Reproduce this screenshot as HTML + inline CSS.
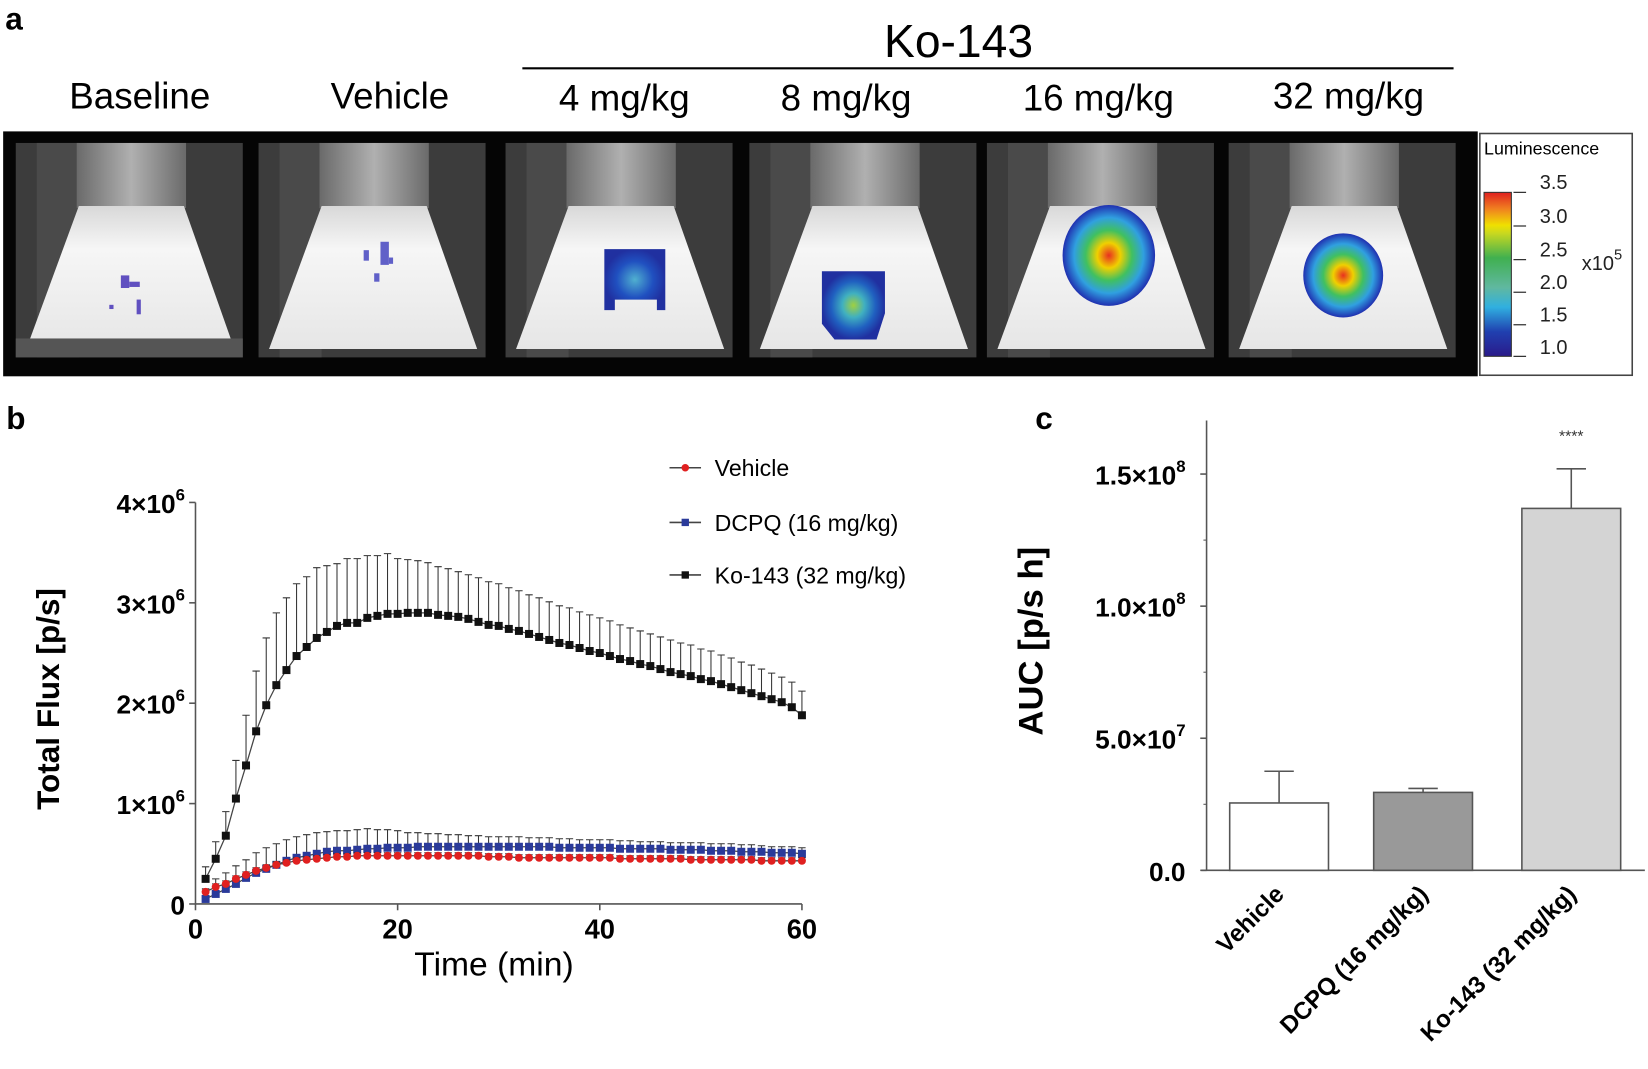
<!DOCTYPE html>
<html><head><meta charset="utf-8"><style>
html,body{margin:0;padding:0;background:#fff;}
svg{display:block;}
text{font-family:"Liberation Sans",Arial,sans-serif;}
</style></head><body>
<svg id="fig" width="1648" height="1069" viewBox="0 0 1568 1017" preserveAspectRatio="none" xmlns="http://www.w3.org/2000/svg">
<defs>
<linearGradient id="neck" x1="0" x2="1" y1="0" y2="0"><stop offset="0" stop-color="#6a6a6a"/><stop offset="0.5" stop-color="#b0b0b0"/><stop offset="1" stop-color="#6a6a6a"/></linearGradient>
<linearGradient id="body" x1="0" x2="0" y1="0" y2="1"><stop offset="0" stop-color="#d8d8d8"/><stop offset="0.3" stop-color="#f6f6f6"/><stop offset="1" stop-color="#e6e6e6"/></linearGradient>
<linearGradient id="cbar" x1="0" x2="0" y1="1" y2="0"><stop offset="0" stop-color="#2a1a8a"/><stop offset="0.15" stop-color="#2040b0"/><stop offset="0.3" stop-color="#30b0e0"/><stop offset="0.42" stop-color="#60b8a0"/><stop offset="0.6" stop-color="#40b050"/><stop offset="0.75" stop-color="#c8d820"/><stop offset="0.8" stop-color="#f0e000"/><stop offset="0.9" stop-color="#f08020"/><stop offset="1" stop-color="#e02020"/></linearGradient>
<radialGradient id="hot" cx="0.5" cy="0.5" r="0.5"><stop offset="0" stop-color="#e83020"/><stop offset="0.25" stop-color="#f0d000"/><stop offset="0.5" stop-color="#40c060"/><stop offset="0.75" stop-color="#30a0e0"/><stop offset="1" stop-color="#2030b0"/></radialGradient>
<radialGradient id="mid" cx="0.5" cy="0.5" r="0.5"><stop offset="0" stop-color="#a0d040"/><stop offset="0.35" stop-color="#40b0c0"/><stop offset="0.7" stop-color="#2060c0"/><stop offset="1" stop-color="#2030a0"/></radialGradient>
<radialGradient id="low" cx="0.5" cy="0.5" r="0.5"><stop offset="0" stop-color="#50b0d0"/><stop offset="0.6" stop-color="#2050c0"/><stop offset="1" stop-color="#2030a0"/></radialGradient>
<g id="mouse">
<rect x="0" y="0" width="216" height="204" fill="#3c3c3c"/>
<rect x="20" y="0" width="40" height="204" fill="#4a4a4a"/>
<rect x="58" y="0" width="104" height="62" fill="url(#neck)"/>
<polygon points="60,60 160,60 208,196 10,196" fill="url(#body)"/>
</g>
</defs>

<text x="5" y="28" font-size="30" font-weight="bold">a</text>
<text x="912" y="54" font-size="44" text-anchor="middle">Ko-143</text>
<line x1="497" y1="65" x2="1383" y2="65" stroke="#000" stroke-width="2"/>
<g font-size="35" text-anchor="middle">
<text x="133" y="103">Baseline</text>
<text x="371" y="103">Vehicle</text>
<text x="594" y="105">4 mg/kg</text>
<text x="805" y="105">8 mg/kg</text>
<text x="1045" y="105">16 mg/kg</text>
<text x="1283" y="103">32 mg/kg</text>
</g>
<rect x="3" y="125" width="1403" height="233" fill="#050505"/>
<g><use href="#mouse" transform="translate(15,136)"/>
<rect x="15" y="322" width="216" height="18" fill="#555"/>
<g fill="#6050c0"><rect x="115" y="262" width="8" height="12"/><rect x="123" y="268" width="10" height="5"/><rect x="130" y="285" width="4" height="14"/><rect x="104" y="290" width="4" height="4"/></g></g>
<g><use href="#mouse" transform="translate(246,136)"/>
<g fill="#6060c8"><rect x="362" y="230" width="8" height="22"/><rect x="346" y="238" width="5" height="10"/><rect x="356" y="260" width="5" height="8"/><rect x="370" y="245" width="4" height="6"/></g></g>
<g><use href="#mouse" transform="translate(481,136)"/>
<path d="M575,237 h58 v58 h-8 v-10 h-40 v10 h-10 z" fill="url(#low)"/></g>
<g><use href="#mouse" transform="translate(713,136)"/>
<path d="M782,258 h60 v40 l-8,25 h-40 l-12,-15 z" fill="url(#mid)"/></g>
<g><use href="#mouse" transform="translate(939,136)"/>
<ellipse cx="1055" cy="243" rx="44" ry="48" fill="url(#hot)"/></g>
<g><use href="#mouse" transform="translate(1169,136)"/>
<ellipse cx="1278" cy="262" rx="38" ry="40" fill="url(#hot)"/></g>
<g>
<rect x="1408" y="127" width="145" height="230" fill="#fff" stroke="#444" stroke-width="1.5"/>
<text x="1412" y="147" font-size="17">Luminescence</text>
<rect x="1412" y="183" width="26" height="156" fill="url(#cbar)" stroke="#333"/>
<g font-family="Liberation Serif" font-size="19" fill="#222">
<text x="1465" y="180">3.5</text><text x="1465" y="212">3.0</text><text x="1465" y="244">2.5</text><text x="1465" y="275">2.0</text><text x="1465" y="306">1.5</text><text x="1465" y="337">1.0</text>
<text x="1505" y="257">x10<tspan font-size="14" dy="-10">5</tspan></text></g>
<path d="M1440,183 h12 M1440,215 h12 M1440,247 h12 M1440,278 h12 M1440,309 h12 M1440,339 h12" stroke="#333" stroke-width="1.2"/>
</g>

<text x="6" y="408" font-size="30" font-weight="bold">b</text>
<g id="chartB"></g>
<text x="985" y="408" font-size="30" font-weight="bold">c</text>
<g id="chartC"></g>
</svg>
<script>
const times = Array.from({length:60},(_, i)=>i+1);
const koValues = [0.25,0.45,0.68,1.05,1.38,1.72,1.98,2.18,2.33,2.47,2.56,2.65,2.71,2.77,2.80,2.80,2.85,2.87,2.89,2.89,2.90,2.90,2.90,2.88,2.87,2.86,2.84,2.81,2.78,2.77,2.74,2.72,2.69,2.66,2.63,2.60,2.58,2.55,2.52,2.50,2.47,2.44,2.42,2.39,2.37,2.34,2.31,2.29,2.27,2.24,2.22,2.19,2.16,2.13,2.10,2.07,2.04,2.01,1.96,1.88];
const koErr = [0.12,0.17,0.24,0.38,0.50,0.60,0.67,0.72,0.72,0.72,0.70,0.70,0.66,0.62,0.64,0.64,0.62,0.60,0.60,0.55,0.53,0.52,0.50,0.48,0.47,0.45,0.44,0.44,0.43,0.42,0.41,0.40,0.39,0.39,0.38,0.37,0.37,0.36,0.36,0.35,0.35,0.34,0.33,0.33,0.32,0.32,0.32,0.31,0.31,0.30,0.30,0.29,0.29,0.28,0.28,0.27,0.26,0.25,0.25,0.24];
const vehValues = [0.12,0.17,0.20,0.25,0.29,0.33,0.36,0.39,0.41,0.43,0.44,0.45,0.46,0.47,0.47,0.48,0.48,0.48,0.48,0.48,0.48,0.48,0.48,0.48,0.48,0.48,0.48,0.48,0.47,0.47,0.47,0.46,0.46,0.46,0.46,0.46,0.46,0.46,0.46,0.46,0.46,0.45,0.45,0.45,0.45,0.45,0.45,0.45,0.44,0.44,0.44,0.44,0.44,0.44,0.44,0.43,0.43,0.43,0.43,0.43];
const vehErr = [0.03,0.03,0.03,0.03,0.03,0.03,0.03,0.03,0.03,0.03,0.03,0.03,0.03,0.03,0.03,0.03,0.03,0.03,0.03,0.03,0.03,0.03,0.03,0.03,0.03,0.03,0.03,0.03,0.03,0.03,0.03,0.03,0.03,0.03,0.03,0.03,0.03,0.03,0.03,0.03,0.03,0.03,0.03,0.03,0.03,0.03,0.03,0.03,0.03,0.03,0.03,0.03,0.03,0.03,0.03,0.03,0.03,0.03,0.03,0.03];
const dcpqValues = [0.05,0.10,0.15,0.20,0.26,0.31,0.35,0.39,0.43,0.46,0.48,0.50,0.52,0.53,0.53,0.54,0.55,0.55,0.56,0.56,0.56,0.57,0.57,0.57,0.57,0.57,0.57,0.57,0.57,0.57,0.57,0.57,0.57,0.57,0.57,0.56,0.56,0.56,0.56,0.56,0.56,0.55,0.55,0.55,0.55,0.55,0.54,0.54,0.54,0.54,0.53,0.53,0.53,0.52,0.52,0.52,0.51,0.51,0.51,0.50];
const dcpqErr = [0.10,0.15,0.16,0.18,0.18,0.20,0.21,0.21,0.21,0.21,0.21,0.21,0.20,0.20,0.20,0.20,0.20,0.19,0.18,0.17,0.15,0.14,0.13,0.13,0.12,0.12,0.11,0.11,0.10,0.10,0.10,0.10,0.09,0.09,0.09,0.09,0.09,0.08,0.08,0.08,0.08,0.08,0.08,0.07,0.07,0.07,0.07,0.07,0.07,0.07,0.07,0.07,0.07,0.07,0.07,0.06,0.06,0.06,0.06,0.06];
const xTicks = [0,20,40,60];
const yTicks = [0,1,2,3,4];
const yTickLabels = ["0","1×10","2×10","3×10","4×10"];
const aucCategories = ["Vehicle","DCPQ (16 mg/kg)","Ko-143 (32 mg/kg)"];
const aucValues = [25.5,29.5,137];
const aucErr = [12,1.5,15];
const aucTicks = [0,50,100,150];
const aucTickLabels = ["0.0","5.0×10","1.0×10","1.5×10"];
const aucTickExp = ["","7","8","8"];

const NS="http://www.w3.org/2000/svg";
function mk(parent,tag,attrs){const e=document.createElementNS(NS,tag);for(const k in attrs)e.setAttribute(k,attrs[k]);parent.appendChild(e);return e;}

// Chart B
const B=document.getElementById('chartB');
const bx=t=>186+(t/60)*(763-186);
const by=v=>860-v*95.5;
let ax=mk(B,'path',{d:`M${bx(0)},${by(4)} V${by(0)} H${bx(60)}`,stroke:'#555',fill:'none','stroke-width':1.5});


xTicks.forEach(t=>{
  const l=mk(B,'line',{x1:bx(t),x2:bx(t),y1:by(0),y2:by(0)+6,stroke:'#555','stroke-width':1.5});
  
  
  const tx=mk(B,'text',{x:bx(t),y:893,'font-size':26,'font-weight':'bold','text-anchor':'middle'});
  tx.textContent=t;
  
  
});
yTicks.forEach((v,i)=>{
  const l=mk(B,'line',{x1:bx(0)-6,x2:bx(0),y1:by(v),y2:by(v),stroke:'#555','stroke-width':1.5});
  
  
  const tx=mk(B,'text',{x:176,y:by(v)+10,'font-size':25,'font-weight':'bold','text-anchor':'end'});
  tx.textContent=yTickLabels[i];
  if(v>0){const sp=mk(tx,'tspan',{'font-size':16,dy:-12});sp.textContent='6';}
  
  
});
const xt=mk(B,'text',{x:470,y:928,'font-size':32,'text-anchor':'middle'});xt.textContent='Time (min)';


const yt=mk(B,'text',{x:0,y:0,'font-size':30,'font-weight':'bold','text-anchor':'middle',transform:'translate(56,665) rotate(-90)'});yt.textContent='Total Flux [p/s]';



function series(name,vals,errs,color,shape){
  const g=mk(B,'g',{});
  
  
  let d='';
  times.forEach((t,i)=>{
    const x=bx(t),y=by(vals[i]),ye=by(vals[i]+errs[i]);
    d+=`M${x},${y}V${ye}M${x-3.5},${ye}H${x+3.5}`;
  });
  const eb=mk(g,'path',{d:d,stroke:'#333','stroke-width':1,fill:'none'});
  
  
  const ln=mk(g,'polyline',{points:times.map((t,i)=>bx(t)+','+by(vals[i])).join(' '),stroke:'#444','stroke-width':1.2,fill:'none'});
  
  
  times.forEach((t,i)=>{
    const x=bx(t),y=by(vals[i]);
    const m= shape==='circle'? mk(g,'circle',{cx:x,cy:y,r:3.8,fill:color}) : mk(g,'rect',{x:x-3.8,y:y-3.8,width:7.6,height:7.6,fill:color});
    
    
  });
}
series('ko143',koValues,koErr,'#111','square');
series('dcpq',dcpqValues,dcpqErr,'#2a3a9a','square');
series('vehicle',vehValues,vehErr,'#e02020','circle');

const legend=[['Vehicle','#e02020','circle',445],['DCPQ (16 mg/kg)','#2a3a9a','square',497],['Ko-143 (32 mg/kg)','#111','square',547]];
legend.forEach(([lab,c,s,y])=>{
  const g=mk(B,'g',{});
  
  
  mk(g,'line',{x1:637,x2:667,y1:y,y2:y,stroke:'#444','stroke-width':1.5});
  if(s==='circle')mk(g,'circle',{cx:652,cy:y,r:3.6,fill:c});else mk(g,'rect',{x:648.5,y:y-3.5,width:7,height:7,fill:c});
  const t=mk(g,'text',{x:680,y:y+8,'font-size':22});t.textContent=lab;
});

// Chart C
const C=document.getElementById('chartC');
const cy=v=>828-v*(828-451)/150;
const ax2=mk(C,'path',{d:`M1148,400 V828 M1143,828 H1565`,stroke:'#555',fill:'none','stroke-width':1.5});


aucTicks.forEach((v,i)=>{
  const l=mk(C,'line',{x1:1142,x2:1148,y1:cy(v),y2:cy(v),stroke:'#555','stroke-width':1.5});
  
  
  if(v<150){
    const mid=mk(C,'line',{x1:1145,x2:1148,y1:cy(v+25),y2:cy(v+25),stroke:'#555','stroke-width':1});
    
    
  }
  const t=mk(C,'text',{x:1128,y:cy(v)+10,'font-size':25,'font-weight':'bold','text-anchor':'end'});
  t.textContent=aucTickLabels[i];
  if(aucTickExp[i]){const sp=mk(t,'tspan',{'font-size':16,dy:-12});sp.textContent=aucTickExp[i];}
  
  
});
const fills=['#ffffff','#999999','#d4d4d4'];
const bw=94, bstart=[1170,1307,1448];
aucCategories.forEach((c,i)=>{
  const x=bstart[i], y=cy(aucValues[i]);
  const r=mk(C,'rect',{x:x,y:y,width:bw,height:828-y,fill:fills[i],stroke:'#555','stroke-width':1.5});
  
  
  const cx=x+bw/2, ye=cy(aucValues[i]+aucErr[i]);
  const e=mk(C,'path',{d:`M${cx},${y}V${ye}M${cx-14},${ye}H${cx+14}`,stroke:'#555','stroke-width':1.5,fill:'none'});
  
  
  const t=mk(C,'text',{x:0,y:0,'font-size':23,'font-weight':'bold','text-anchor':'end',transform:`translate(${cx+6},${852}) rotate(-45)`});
  t.textContent=c;
  
  
});
const st=mk(C,'text',{x:1495,y:420,'font-size':15,'text-anchor':'middle',fill:'#333'});st.textContent='****';


const ct=mk(C,'text',{x:0,y:0,'font-size':33,'font-weight':'bold','text-anchor':'middle',transform:'translate(992,610) rotate(-90)'});ct.textContent='AUC [p/s h]';


</script>
</body></html>
